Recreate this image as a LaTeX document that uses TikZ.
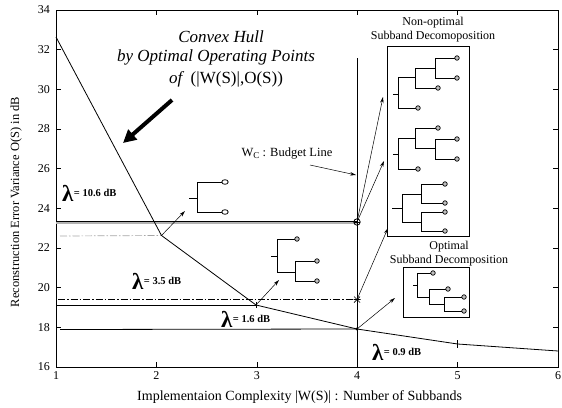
\documentclass[tikz,border=0pt]{standalone}
\usepackage{fontspec}
\setmainfont{Liberation Serif}
\usetikzlibrary{arrows.meta}
\begin{document}
\begin{tikzpicture}[x=1pt,y=-1pt,
  frame/.style={line width=0.6pt},
  curve/.style={line width=0.8pt},
  tree/.style={line width=0.9pt},
  leaf/.style={circle,draw,line width=0.7pt,fill=gray!50,inner sep=0pt,minimum size=4.5pt},
  thinarrow/.style={line width=0.5pt,-{Stealth[length=6pt,width=3.5pt]}},
  dashdot/.style={line width=0.7pt,dash pattern=on 7pt off 2pt on 1.5pt off 2pt},
  lam/.style={font=\fontsize{23}{23}\selectfont\bfseries,inner sep=0pt,anchor=west},
  lamtxt/.style={font=\fontsize{10.5}{12}\selectfont\bfseries,inner sep=0pt,anchor=west},
  ticklab/.style={font=\fontsize{12}{14}\selectfont,inner sep=1pt},
  lab/.style={font=\fontsize{12.5}{14}\selectfont,inner sep=0pt},
  ttl/.style={font=\fontsize{17}{19}\selectfont\itshape,inner sep=0pt},
  boxlab/.style={font=\fontsize{12}{14}\selectfont,inner sep=0pt},
  ]
\useasboundingbox (0,0) rectangle (562,407);

% frame and ticks
\draw[frame] (56,10) rectangle (558,367);
\foreach \v in {16,18,...,34} {
  \pgfmathsetmacro\yy{367-(\v-16)*19.83}
  \draw[frame] (56,\yy) -- ++(5,0);
  \draw[frame] (558,\yy) -- ++(-5,0);
  \node[ticklab,anchor=east] at (51,\yy) {\v};
}
\foreach \v in {1,...,6} {
  \pgfmathsetmacro\xx{56+(\v-1)*100.4}
  \draw[frame] (\xx,367) -- ++(0,-5);
  \draw[frame] (\xx,10) -- ++(0,5);
  \node[ticklab,anchor=north] at (\xx,370) {\v};
}
\node[lab,rotate=90] (ylab) at (16,202) {Reconstruction Error Variance O(S) in dB};
\node[lab,font=\fontsize{14}{16}\selectfont,anchor=west] (xlab) at (137,397) {Implementaion Complexity |W(S)| : Number of Subbands};

% data points
\coordinate (p1) at (56,37);
\coordinate (p2) at (161.5,235.5);
\coordinate (p3) at (256,305);
\coordinate (p4) at (357,329);
\coordinate (p5) at (457.6,344);
\coordinate (p6) at (558,351);
\coordinate (c4) at (357,222);
\coordinate (s4) at (357,299.5);

% horizontal reference lines
\draw[line width=1.6pt,gray!60] (56,223) -- (c4 |- 0,223);
\draw[line width=0.8pt] (56,221.3) -- (c4 |- 0,221.3);
\draw[dashdot,gray!70] (60,236) -- (p2);
\draw[dashdot] (58,299.5) -- (s4);
\draw[line width=0.8pt] (56,305) -- (p3);
\draw[line width=0.8pt] (60,329.5) -- (p4);

% budget line
\coordinate (btop) at (357,58);
\coordinate (bbot) at (357,367);
\draw[line width=0.6pt] (btop) -- (bbot);

% convex hull curve
\draw[curve] (p1) -- (p2) -- (p3) -- (p4) -- (p5) -- (p6);
\draw[line width=0.6pt] (p5) ++(0,-4) -- ++(0,8);
\draw[line width=0.6pt] (p3) ++(0,-3) -- ++(0,6);

% markers at W = 4
\draw[line width=0.8pt] (c4) circle (3.2pt);
\draw[line width=0.6pt] (c4) ++(-3.2,0) -- ++(6.4,0) (c4) ++(0,-3.2) -- ++(0,6.4);
\draw[line width=0.7pt] (s4) ++(-3,-3) -- ++(6,6) (s4) ++(-3,3) -- ++(6,-6) (s4) ++(-3.5,0) -- ++(7,0);
\fill (p4) circle (1.6pt);

% title
\node[ttl] (t1) at (221,37) {Convex Hull};
\node[ttl] (t2) at (216,57) {by Optimal Operating Points};
\node[ttl] (t3) at (226,79) {of\ \ \upshape(|W(S)|,O(S))};
\coordinate (ba1) at (172,100);
\coordinate (ba2) at (123,143);
\draw[line width=4pt,-{Triangle[length=13pt,width=13pt]}] (ba1) -- (ba2);

% budget line label
\node[lab] (wc) at (287,154) {W\raisebox{-0.35ex}{\fontsize{9}{10}\selectfont C} : Budget Line};
\coordinate (wcs) at (310,165);
\coordinate (wce) at (356,175);
\draw[thinarrow] (wcs) -- (wce);

% lambda labels
\node[lam] (l1) at (62,193) {λ};
\node[lamtxt] (l1t) at (l1.east) {= 10.6 dB};
\node[lam] (l2) at (132,281) {λ};
\node[lamtxt] (l2t) at (l2.east) {= 3.5 dB};
\node[lam] (l3) at (221,319) {λ};
\node[lamtxt] (l3t) at (l3.east) {= 1.6 dB};
\node[lam] (l4) at (372,352) {λ};
\node[lamtxt] (l4t) at (l4.east) {= 0.9 dB};

% tree A (2 subbands)
\draw[tree] (189,198) -- (197,198) (197,182) -- (197,212) (197,182) -- (222,182) (197,212) -- (222,212);
\draw[line width=0.8pt,fill=white] (225,182) ellipse (3.2pt and 2.3pt);
\draw[line width=0.8pt,fill=white] (225,212) ellipse (3.2pt and 2.3pt);

% tree B (3 subbands)
\draw[tree] (271,256) -- (277,256) (277,239) -- (277,272) (277,239) -- (295,239)
  (277,272) -- (295,272) (295,261) -- (295,281) (295,261) -- (315,261) (295,281) -- (315,281);
\node[leaf] (bl1) at (297,239) {};
\node[leaf] (bl2) at (317,261) {};
\node[leaf] (bl3) at (317,281) {};

% non-optimal box
\node[boxlab] (no1) at (433,23) {Non-optimal};
\node[boxlab] (no2) at (433,37) {Subband Decomoposition};
\draw[line width=0.8pt] (387,46) rectangle (469,236);
% tree N1
\draw[tree] (393,94) -- (398,94) (398,77) -- (398,108) (398,108) -- (416,108) (398,77) -- (415,77)
  (415,68) -- (415,88) (415,88) -- (436,88) (415,68) -- (435,68) (435,58) -- (435,78)
  (435,58) -- (455,58) (435,78) -- (455,78);
\node[leaf] at (418,108) {};
\node[leaf] at (438,88) {};
\node[leaf] at (457,58) {};
\node[leaf] at (457,78) {};
% tree N2
\draw[tree] (393,154) -- (398,154) (398,138) -- (398,169) (398,169) -- (416,169) (398,138) -- (415,138)
  (415,128) -- (415,148) (415,128) -- (436,128) (415,148) -- (435,148) (435,139) -- (435,159)
  (435,139) -- (455,139) (435,159) -- (455,159);
\node[leaf] at (418,169) {};
\node[leaf] at (438,128) {};
\node[leaf] at (457,139) {};
\node[leaf] at (457,159) {};
% tree N3
\draw[tree] (392,208) -- (402,208) (402,194) -- (402,222) (402,194) -- (421,194) (402,222) -- (421,222)
  (421,184) -- (421,203) (421,212) -- (421,231)
  (421,184) -- (443,184) (421,203) -- (443,203) (421,212) -- (443,212) (421,231) -- (443,231);
\node[leaf] at (445,184) {};
\node[leaf] at (445,203) {};
\node[leaf] at (445,212) {};
\node[leaf] at (445,231) {};

% optimal box
\node[boxlab] (op1) at (449,247) {Optimal};
\node[boxlab] (op2) at (449,261) {Subband Decomposition};
\draw[line width=0.8pt] (403,267) rectangle (469,317);
\draw[tree] (413,285) -- (417,285) (417,273) -- (417,297) (417,273) -- (431,273) (417,297) -- (429,297)
  (429,289) -- (429,304) (429,289) -- (446,289) (429,304) -- (444,304) (444,297) -- (444,311)
  (444,297) -- (462,297) (444,311) -- (462,311);
\node[leaf] at (433,273) {};
\node[leaf] at (448,289) {};
\node[leaf] at (464,297) {};
\node[leaf] at (464,311) {};

% pointer arrows
\coordinate (a1) at (185,211);
\coordinate (a2) at (279,280);
\coordinate (a3) at (383,97);
\coordinate (a4) at (384,161);
\coordinate (a5) at (388,228);
\coordinate (a6) at (395,298);
\draw[thinarrow] (p2) -- (a1);
\draw[thinarrow] (p3) -- (a2);
\draw[thinarrow] (c4) -- (a3);
\draw[thinarrow] (c4) -- (a4);
\draw[thinarrow] (s4) -- (a5);
\draw[thinarrow] (p4) -- (a6);
\end{tikzpicture}
\end{document}
